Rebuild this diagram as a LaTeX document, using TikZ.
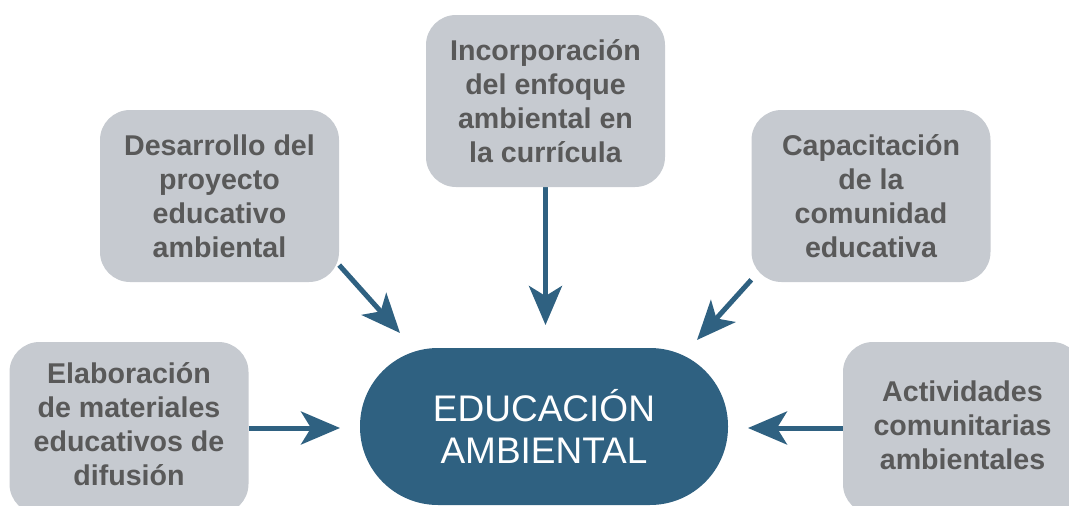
\documentclass[tikz,border=0pt]{standalone}
\usepackage{fontspec}
\setmainfont{Liberation Sans}
\usetikzlibrary{arrows.meta}
\definecolor{boxgray}{HTML}{C6CAD0}
\definecolor{txtgray}{HTML}{595959}
\definecolor{deepteal}{HTML}{2F6181}
\pgfdeclarelayer{bg}
\pgfsetlayers{bg,main}
\begin{document}
\begin{tikzpicture}[x=1pt,y=-1pt,
  topic/.style={rectangle, rounded corners=30pt, fill=boxgray, text=txtgray,
    minimum width=239pt, minimum height=172pt, align=center, inner sep=0pt,
    font=\fontsize{28.6}{34}\selectfont\bfseries},
  core/.style={rectangle, rounded corners=78pt, fill=deepteal, text=white,
    minimum width=368pt, minimum height=157pt, align=center, inner sep=0pt,
    font=\fontsize{37}{42}\selectfont},
  link/.style={draw=deepteal, line width=5pt,
    -{Stealth[length=39pt,width=33pt,inset=10pt]}}]
\useasboundingbox (0,0) rectangle (1069,506);
\clip (0,0) rectangle (1069,506);

\node[core] (E) at (544,426.5) {EDUCACIÓN\\AMBIENTAL};
\node[topic] (A) at (545.5,101) {Incorporación\\del enfoque\\ambiental en\\la currícula};
\node[topic] (B) at (219.5,196) {Desarrollo del\\proyecto\\educativo\\ambiental};
\node[topic] (C) at (871,196) {Capacitación\\de la\\comunidad\\educativa};
\node[topic] (D) at (129,428) {Elaboración\\de materiales\\educativos de\\difusión\\[-26pt]\mbox{}};
\node[topic] (F) at (962.5,428) {Actividades\\comunitarias\\ambientales\\[-28pt]\mbox{}};

\coordinate (tA) at (545.5,325);
\coordinate (tB) at (400,333);
\coordinate (tC) at (697,340);
\coordinate (tD) at (340,428);
\coordinate (tF) at (748,428);

\begin{pgfonlayer}{bg}
\draw[link] (A.south) -- (tA);
\draw[link] (B.-30) -- (tB);
\draw[link] (C.-145) -- (tC);
\draw[link] (D.east) -- (tD);
\draw[link] (F.west) -- (tF);
\end{pgfonlayer}
\end{tikzpicture}
\end{document}
